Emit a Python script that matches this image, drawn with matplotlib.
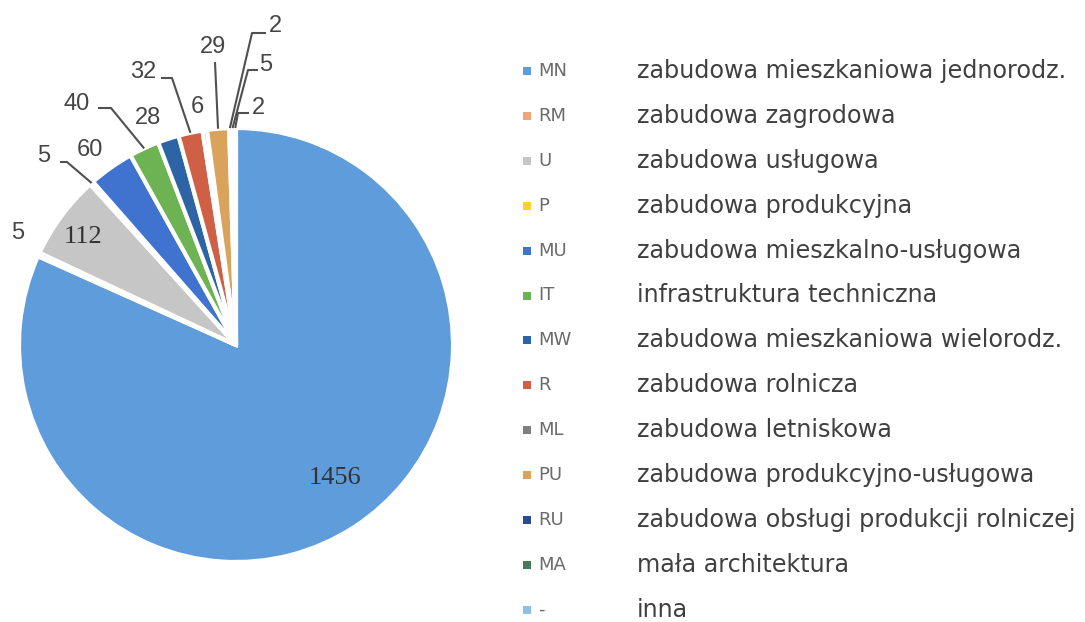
import matplotlib
matplotlib.use("Agg")
import matplotlib.pyplot as plt
import numpy as np

# ---------------- data ----------------
codes = ["MN", "RM", "U", "P", "MU", "IT", "MW", "R", "ML", "PU", "RU", "MA", "-"]
names = ["zabudowa mieszkaniowa jednorodz.", "zabudowa zagrodowa", "zabudowa usługowa",
         "zabudowa produkcyjna", "zabudowa mieszkalno-usługowa", "infrastruktura techniczna",
         "zabudowa mieszkaniowa wielorodz.", "zabudowa rolnicza", "zabudowa letniskowa",
         "zabudowa produkcyjno-usługowa", "zabudowa obsługi produkcji rolniczej",
         "mała architektura", "inna"]
values = [1456, 5, 112, 5, 60, 40, 28, 32, 6, 29, 2, 5, 2]
colors = ["#5E9CDB", "#F0A47A", "#C6C6C6", "#FFD21F", "#3F73CF", "#6DB253", "#2C64A6",
          "#CF5F45", "#7F7F7F", "#D9A35B", "#2B4C8C", "#4A7A5A", "#8DBDEB"]

# ---------------- layout ----------------
W, H = 1085, 622
CX, CY, R = 236, 345, 217          # pie centre / radius in pixels (from top-left)
TXT = "#404040"
FONT = "DejaVu Sans"

fig = plt.figure(figsize=(W / 100, H / 100), dpi=100)
fig.patch.set_facecolor("white")
ax = fig.add_axes([(CX - R) / W, (H - CY - R) / H, 2 * R / W, 2 * R / H])

wedges, _ = ax.pie(values, colors=colors, startangle=90, counterclock=False, radius=1,
                   wedgeprops=dict(edgecolor="white", linewidth=3))
ax.set_xlim(-1, 1)
ax.set_ylim(-1, 1)
ax.set_aspect("equal")
ax.axis("off")


def p2d(px, py):
    return (px - CX) / R, (CY - py) / R


# label placement (pixels) and optional leader elbow (pixels)
label_layout = {
    0: (335, 478, None),
    1: (18, 233, None),
    2: (83, 237, None),
    3: (44, 156, [(60, 162), (67, 162)]),
    4: (90, 150, None),
    5: (77, 104, [(98, 108), (111, 108)]),
    6: (148, 118, None),
    7: (143, 72, [(161, 78), (172, 78)]),
    8: (197, 107, None),
    9: (213, 47, [(215, 62)]),
    10: (275, 26, [(266, 33), (252, 33)]),
    11: (266, 65, [(258, 70), (248, 70)]),
    12: (258, 108, [(249, 113), (238, 113)]),
}
inside = {0, 2}

for i, w in enumerate(wedges):
    tx, ty, elbow = label_layout[i]
    x, y = p2d(tx, ty)
    if i in inside:
        ax.text(x, y, str(values[i]), ha="center", va="center", fontsize=19,
                family="Liberation Serif", color="#333333", clip_on=False)
    else:
        ax.text(x, y, str(values[i]), ha="center", va="center", fontsize=17,
                family="Liberation Sans", color="#454545", clip_on=False)
    if elbow is not None:
        mid = np.deg2rad((w.theta1 + w.theta2) / 2)
        pts = [p2d(*p) for p in elbow] + [(np.cos(mid) * 1.0, np.sin(mid) * 1.0)]
        xs = [p[0] for p in pts]
        ys = [p[1] for p in pts]
        ax.plot(xs, ys, color="#505050", lw=1.5, clip_on=False, solid_capstyle="butt")

# ---------------- legend ----------------
row0, dy = 71, 44.9
for i in range(len(codes)):
    yy = row0 + i * dy
    fy = 1 - yy / H
    sq = 8
    fig.patches.append(plt.Rectangle((523 / W, 1 - (yy + sq / 2) / H), sq / W, sq / H,
                                     transform=fig.transFigure, facecolor=colors[i],
                                     edgecolor="none"))
    fig.text(538 / W, fy, codes[i], ha="left", va="center", fontsize=13,
             family=FONT, color="#6A6A6A")
    fig.text(637 / W, fy, names[i], ha="left", va="center", fontsize=17.2,
             family=FONT, color=TXT)

fig.savefig("out.png", dpi=100, facecolor="white")
